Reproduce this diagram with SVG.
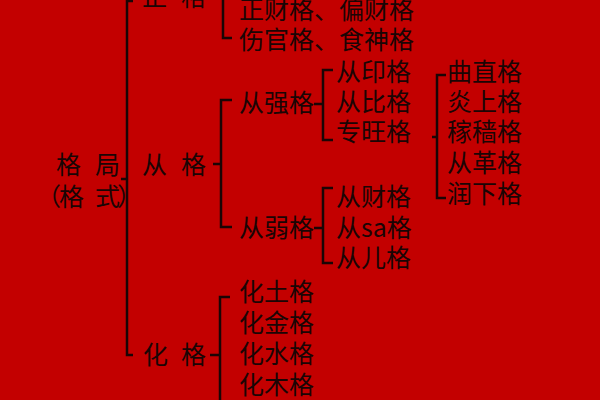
<svg xmlns="http://www.w3.org/2000/svg" width="600" height="400" viewBox="0 0 600 400">
<style>
text{font-family:"Noto Sans CJK SC","Noto Sans",sans-serif;font-size:25px;fill:#1a0505}
.br{fill:none;stroke:#1a0505;stroke-width:2.5}
</style>
<rect width="600" height="400" fill="#c30000"/>
<g id="connectors">
<path class="br" d="M133,1 H127 V355 H133 M121,179 H127"/>
<path class="br" d="M232,-25 H223 V38 H232"/>
<path class="br" d="M232,100 H221 V227 H232 M213,164 H221"/>
<path class="br" d="M333,70 H323 V140 H333 M314,104 H323"/>
<path class="br" d="M446,75 H437 V198 H446 M432,137 H437"/>
<path class="br" d="M333,188 H323 V263 H333 M314,228 H323"/>
<path class="br" d="M230,297 H220 V410 M210,355 H220"/>
</g>
<g id="root"><text x="56 82 95" y="174">格 局</text><text x="36 59 85 95 117" y="206">（格 式）</text></g>
<g id="zhengge"><text x="142 168 181" y="6">正 格</text></g>
<g id="zhengge-items"><text x="239" y="19">正财格、偏财格</text><text x="239" y="49">伤官格、食神格</text></g>
<g id="congge"><text x="142 168 181" y="174">从 格</text></g>
<g id="congqiang"><text x="239" y="112">从强格</text></g>
<g id="congruo"><text x="239" y="237">从弱格</text></g>
<g id="congqiang-items"><text x="336" y="81">从印格</text><text x="336" y="111">从比格</text><text x="336" y="141">专旺格</text></g>
<g id="zhuanwang-items"><text x="447" y="81">曲直格</text><text x="447" y="111">炎上格</text><text x="447" y="141">稼穑格</text><text x="447" y="172">从革格</text><text x="447" y="203">润下格</text></g>
<g id="congruo-items"><text x="336" y="206">从财格</text><text x="336" y="237">从sa格</text><text x="336" y="267">从儿格</text></g>
<g id="huage"><text x="143 168 181" y="364">化 格</text></g>
<g id="huage-items"><text x="239" y="301">化土格</text><text x="239" y="332">化金格</text><text x="239" y="363">化水格</text><text x="239" y="394">化木格</text></g>
</svg>
